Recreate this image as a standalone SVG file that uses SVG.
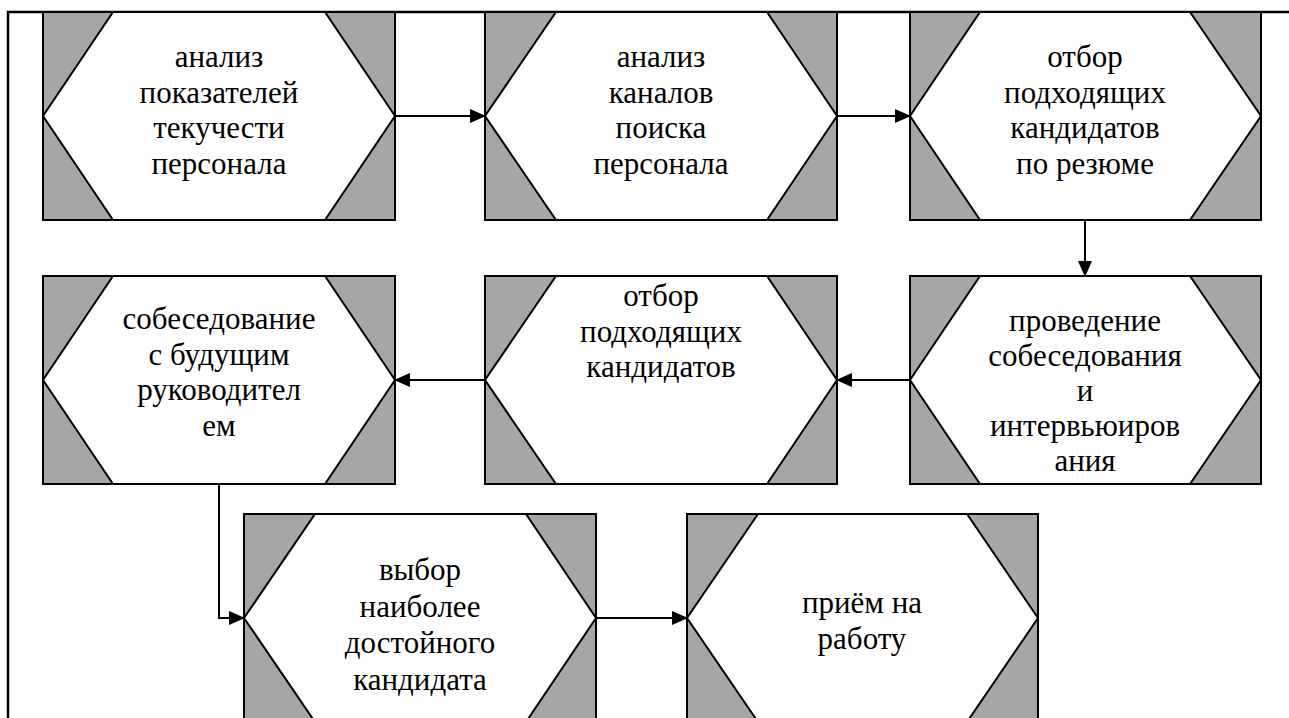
<svg xmlns="http://www.w3.org/2000/svg" width="1289" height="718" viewBox="0 0 1289 718">
<style>
.box{fill:#a6a6a6;stroke:#000;stroke-width:2}
.hex{fill:#fff;stroke:#000;stroke-width:2;stroke-linejoin:miter}
.lbl{font-family:'Liberation Serif','Times New Roman',serif;font-size:31px;fill:#000;text-anchor:middle}
.conn{fill:none;stroke:#000;stroke-width:2}
.frame{fill:none;stroke:#000;stroke-width:2.5}
</style>
<defs>
<marker id="arr" markerWidth="16" markerHeight="14" refX="15" refY="7" orient="auto" markerUnits="userSpaceOnUse">
<path d="M0,0 L16,7 L0,14 Z" fill="#000"/>
</marker>
</defs>
<rect width="1289" height="718" fill="#fff"/>
<path class="frame" d="M1289,12 H8 V718"/>

<g id="node-1">
<rect class="box" x="43" y="12" width="352" height="208"/>
<polygon class="hex" points="113,12 325,12 395,116 325,220 113,220 43,116"/>
<text class="lbl"><tspan x="219" y="67">анализ</tspan><tspan x="219" y="103">показателей</tspan><tspan x="219" y="138">текучести</tspan><tspan x="219" y="174">персонала</tspan></text>
</g>
<g id="node-2">
<rect class="box" x="485" y="12" width="352" height="208"/>
<polygon class="hex" points="556,12 767,12 837,116 767,220 556,220 485,116"/>
<text class="lbl"><tspan x="661" y="67">анализ</tspan><tspan x="661" y="103">каналов</tspan><tspan x="661" y="138">поиска</tspan><tspan x="661" y="174">персонала</tspan></text>
</g>
<g id="node-3">
<rect class="box" x="910" y="12" width="351" height="208"/>
<polygon class="hex" points="980,12 1190,12 1261,116 1190,220 980,220 910,116"/>
<text class="lbl"><tspan x="1085" y="67">отбор</tspan><tspan x="1085" y="103">подходящих</tspan><tspan x="1085" y="138">кандидатов</tspan><tspan x="1085" y="174">по резюме</tspan></text>
</g>
<g id="node-4">
<rect class="box" x="43" y="276" width="352" height="208"/>
<polygon class="hex" points="113,276 325,276 395,380 325,484 113,484 43,380"/>
<text class="lbl"><tspan x="219" y="329">собеседование</tspan><tspan x="219" y="365">с будущим</tspan><tspan x="219" y="400">руководител</tspan><tspan x="219" y="436">ем</tspan></text>
</g>
<g id="node-5">
<rect class="box" x="485" y="276" width="352" height="208"/>
<polygon class="hex" points="556,276 767,276 837,380 767,484 556,484 485,380"/>
<text class="lbl"><tspan x="661" y="306">отбор</tspan><tspan x="661" y="342">подходящих</tspan><tspan x="661" y="377">кандидатов</tspan></text>
</g>
<g id="node-6">
<rect class="box" x="910" y="276" width="351" height="208"/>
<polygon class="hex" points="980,276 1190,276 1261,380 1190,484 980,484 910,380"/>
<text class="lbl"><tspan x="1085" y="331">проведение</tspan><tspan x="1085" y="366">собеседования</tspan><tspan x="1085" y="401">и</tspan><tspan x="1085" y="436">интервьюиров</tspan><tspan x="1085" y="471">ания</tspan></text>
</g>
<g id="node-7">
<rect class="box" x="244" y="514" width="352" height="208"/>
<polygon class="hex" points="315,514 526,514 596,618 526,722 315,722 244,618"/>
<text class="lbl"><tspan x="420" y="580">выбор</tspan><tspan x="420" y="617">наиболее</tspan><tspan x="420" y="653">достойного</tspan><tspan x="420" y="690">кандидата</tspan></text>
</g>
<g id="node-8">
<rect class="box" x="687" y="514" width="351" height="208"/>
<polygon class="hex" points="758,514 967,514 1038,618 967,722 758,722 687,618"/>
<text class="lbl"><tspan x="862" y="613">приём на</tspan><tspan x="862" y="649">работу</tspan></text>
</g>

<g id="connectors">
<path class="conn" d="M395,116 H485" marker-end="url(#arr)"/>
<path class="conn" d="M837,116 H910" marker-end="url(#arr)"/>
<path class="conn" d="M1085,220 V276" marker-end="url(#arr)"/>
<path class="conn" d="M910,380 H837" marker-end="url(#arr)"/>
<path class="conn" d="M485,380 H395" marker-end="url(#arr)"/>
<path class="conn" d="M219,484 V618 H244" marker-end="url(#arr)"/>
<path class="conn" d="M596,618 H687" marker-end="url(#arr)"/>
</g>
</svg>
